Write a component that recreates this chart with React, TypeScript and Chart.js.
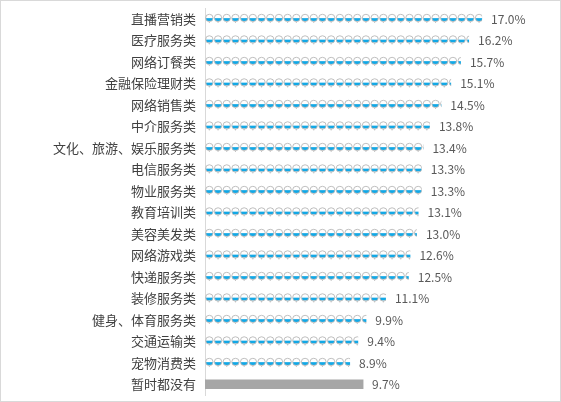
import { useEffect, useRef } from 'react';
import { Chart, registerables, Plugin } from 'chart.js';

Chart.register(...registerables);

const categories: string[] = [
  '直播营销类', '医疗服务类', '网络订餐类', '金融保险理财类', '网络销售类', '中介服务类',
  '文化、旅游、娱乐服务类', '电信服务类', '物业服务类', '教育培训类', '美容美发类', '网络游戏类',
  '快递服务类', '装修服务类', '健身、体育服务类', '交通运输类', '宠物消费类', '暂时都没有',
];
const shares: number[] = [
  17.0, 16.2, 15.7, 15.1, 14.5, 13.8, 13.4, 13.3, 13.3, 13.1, 13.0, 12.6, 12.5, 11.1, 9.9, 9.4, 8.9, 9.7,
];
// the last category is drawn as a plain grey bar, the others as stacked glass icons
const plainIndex = categories.length - 1;

const FONT = '"Noto Sans CJK SC", "Microsoft YaHei", sans-serif';

// draws the glass icons inside each bar and the value labels after the bars
const pictoPlugin: Plugin<'bar'> = {
  id: 'picto',
  afterDatasetsDraw(chart) {
    const ctx = chart.ctx;
    const meta = chart.getDatasetMeta(0);
    meta.data.forEach((el: any, i: number) => {
      const { x, y, base, height } = el.getProps(['x', 'y', 'base', 'height'], true);
      if (i !== plainIndex) {
        ctx.save();
        ctx.beginPath();
        ctx.rect(base, y - height / 2 - 1, x - base, height + 2);
        ctx.clip();
        const step = 8.7;
        for (let ix = base; ix < x; ix += step) {
          const cx = ix + step / 2;
          const cy = y - 0.8;
          const r = 3.7;
          // blue liquid in the lower half
          ctx.save();
          ctx.beginPath();
          ctx.arc(cx, cy, r, 0, Math.PI * 2);
          ctx.clip();
          ctx.fillStyle = '#12a8e6';
          ctx.fillRect(cx - r, cy + 0.2, r * 2, 2.8);
          ctx.restore();
          // bowl outline, dotted look on top
          ctx.beginPath();
          ctx.arc(cx, cy, r, 0, Math.PI * 2);
          ctx.strokeStyle = '#b8b8b8';
          ctx.lineWidth = 0.9;
          ctx.stroke();
          // stem
          ctx.beginPath();
          ctx.moveTo(cx, cy + r);
          ctx.lineTo(cx, cy + r + 1.3);
          ctx.stroke();
        }
        ctx.restore();
      }
      ctx.save();
      ctx.font = `12px ${FONT}`;
      ctx.fillStyle = '#595959';
      ctx.textAlign = 'left';
      ctx.textBaseline = 'middle';
      ctx.fillText(shares[i].toFixed(1) + '%', x + 9, y + 0.5);
      ctx.restore();
    });
  },
};

function PictoBarChart() {
  const canvasRef = useRef<HTMLCanvasElement | null>(null);

  useEffect(() => {
    if (!canvasRef.current) return;
    const chart = new Chart(canvasRef.current, {
      type: 'bar',
      data: {
        labels: categories,
        datasets: [
          {
            data: shares,
            backgroundColor: shares.map((_, i) => (i === plainIndex ? '#a6a6a6' : 'rgba(0,0,0,0)')),
            borderWidth: 0,
            barThickness: 9,
          },
        ],
      },
      options: {
        indexAxis: 'y',
        animation: false,
        responsive: true,
        maintainAspectRatio: false,
        layout: { padding: { top: 7, bottom: 6, left: 0, right: 29 } },
        plugins: {
          legend: { display: false },
          tooltip: { enabled: false },
        },
        scales: {
          x: { display: false, min: 0, max: 20 },
          y: {
            grid: { display: false, drawTicks: false },
            border: { display: true, color: '#d9d9d9', width: 1 },
            ticks: {
              padding: 9,
              color: '#404040',
              font: { family: FONT, size: 13 },
              autoSkip: false,
            },
            afterFit: (scale: any) => {
              scale.width = 204;
              scale.paddingTop = 0;
              scale.paddingBottom = 0;
            },
          },
        },
      },
      plugins: [pictoPlugin],
    });
    return () => chart.destroy();
  }, []);

  return <canvas ref={canvasRef} />;
}

export default function App() {
  return (
    <div
      style={{
        position: 'fixed',
        left: 0,
        top: 0,
        width: 561,
        height: 402,
        boxSizing: 'border-box',
        border: '1px solid #d9d9d9',
        background: '#fff',
      }}
    >
      <PictoBarChart />
    </div>
  );
}
